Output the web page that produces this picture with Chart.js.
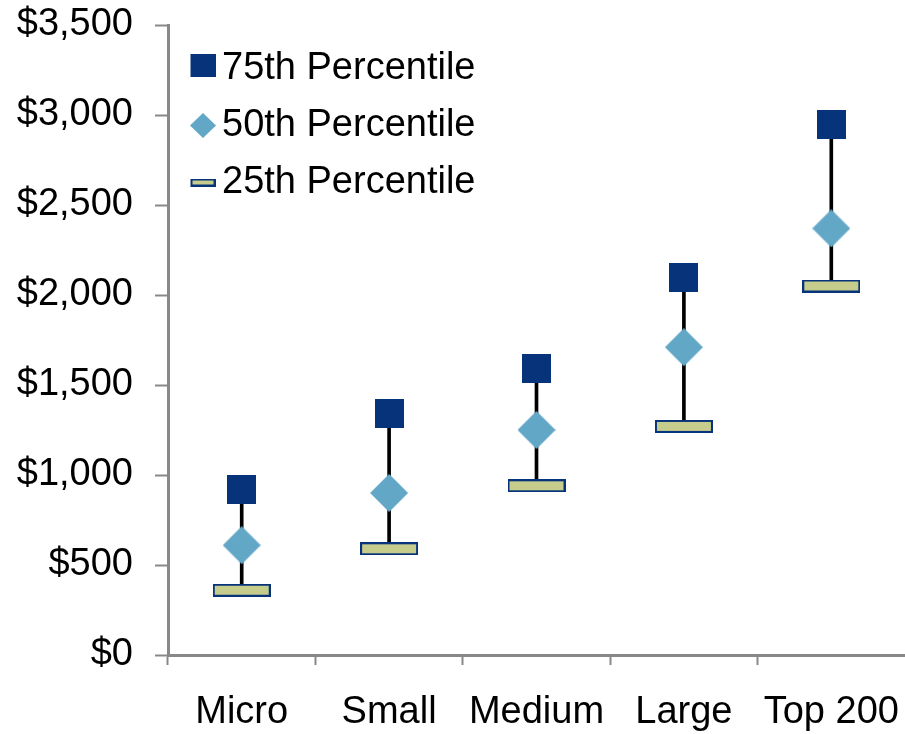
<!DOCTYPE html>
<html>
<head>
<meta charset="utf-8">
<script src="https://cdn.jsdelivr.net/npm/chart.js@4.4.1/dist/chart.umd.min.js"></script>
<style>
  html, body { margin: 0; padding: 0; background: #fff; overflow: hidden; }
  #grafico { display: block; }
</style>
</head>
<body>
<canvas id="grafico" width="905" height="734"></canvas>
<script>
// Datos
const categorias = ['Micro', 'Small', 'Medium', 'Large', 'Top 200'];
const p75 = [920, 1340, 1590, 2100, 2950];
const p50 = [610, 900, 1250, 1710, 2370];
const p25 = [360, 590, 940, 1270, 2050];
const ticksY = [0, 500, 1000, 1500, 2000, 2500, 3000, 3500];

const AZUL = '#06337a';
const CELESTE = '#63a7c7';
const OLIVA = '#c5cc8c';
const FUENTE = "'Liberation Sans', Arial, sans-serif";

// Crea un marcador como imagen (canvas) para usar como pointStyle
function marcador(w, h, dx, dy, dibujar) {
    const c = document.createElement('canvas');
    c.width = w + Math.abs(dx) * 2;
    c.height = h + Math.abs(dy) * 2;
    const ctx = c.getContext('2d');
    ctx.translate(c.width / 2 + dx - w / 2, c.height / 2 + dy - h / 2);
    dibujar(ctx, w, h);
    return c;
}

function cuadrado(ctx, w, h) {
    ctx.fillStyle = AZUL;
    ctx.fillRect(0, 0, w, h);
}
function rombo(ctx, w, h) {
    ctx.fillStyle = CELESTE;
    ctx.beginPath();
    ctx.moveTo(w / 2, 0);
    ctx.lineTo(w, h / 2);
    ctx.lineTo(w / 2, h);
    ctx.lineTo(0, h / 2);
    ctx.closePath();
    ctx.fill();
}
function barrita(ctx, w, h) {
    ctx.fillStyle = AZUL;
    ctx.fillRect(0, 0, w, h);
    ctx.fillStyle = OLIVA;
    ctx.fillRect(2, 2, w - 4, h - 4);
}

// marcadores del gráfico
const imgP75 = marcador(29, 29, 0, 0, cuadrado);
const imgP50 = marcador(38, 38, 0, 0, rombo);
const imgP25 = marcador(58, 13, 0, 0, barrita);

// marcadores de la leyenda (desplazados a la derecha)
const legP75 = marcador(25, 23, 8, -3, cuadrado);
const legP50 = marcador(26, 25, 8, 0, rombo);
const legP25 = marcador(25, 8, 8, 0, barrita);

const rangos = p25.map((v, i) => [v, p75[i]]);

new Chart(document.getElementById('grafico'), {
    data: {
        labels: categorias,
        datasets: [
            {
                type: 'bar',
                label: 'rango',
                data: rangos,
                backgroundColor: '#000',
                barThickness: 3,
                order: 4
            },
            {
                type: 'line',
                label: '25th Percentile',
                data: p25,
                showLine: false,
                pointStyle: imgP25,
                order: 3
            },
            {
                type: 'line',
                label: '50th Percentile',
                data: p50,
                showLine: false,
                pointStyle: imgP50,
                order: 2
            },
            {
                type: 'line',
                label: '75th Percentile',
                data: p75,
                showLine: false,
                pointStyle: imgP75,
                order: 1
            }
        ]
    },
    options: {
        responsive: false,
        animation: false,
        layout: { autoPadding: false, padding: { top: 25, right: 0, left: 0, bottom: 0 } },
        scales: {
            x: {
                offset: true,
                grid: {
                    offset: true,
                    drawOnChartArea: false,
                    drawTicks: true,
                    tickLength: 10,
                    tickWidth: 2,
                    // sin marca en el extremo derecho
                    tickColor: (c) => c.tick ? '#888' : 'transparent'
                },
                border: { color: '#888', width: 3 },
                ticks: {
                    color: '#000',
                    padding: 25,
                    maxRotation: 0,
                    font: { family: FUENTE, size: 38 }
                },
                afterFit: (s) => {
                    s.height = 79;
                    s.paddingLeft = 0;
                    s.paddingRight = 0;
                }
            },
            y: {
                min: 0,
                max: 3500,
                afterBuildTicks: (s) => { s.ticks = ticksY.map(v => ({ value: v })); },
                grid: {
                    drawOnChartArea: false,
                    drawTicks: true,
                    tickLength: 13,
                    tickWidth: 2,
                    tickColor: '#888'
                },
                border: { color: '#888', width: 3 },
                ticks: {
                    color: '#000',
                    padding: 22,
                    font: { family: FUENTE, size: 38 },
                    callback: (v) => '$' + v.toLocaleString('en-US')
                },
                afterFit: (s) => {
                    s.width = 168;
                    s.paddingTop = 0;
                    s.paddingBottom = 0;
                }
            }
        },
        plugins: {
            tooltip: { enabled: false },
            legend: {
                position: 'chartArea',
                align: 'start',
                title: {
                    display: true,
                    text: '',
                    color: '#000',
                    padding: { top: 20.5, bottom: 0 },
                    font: { size: 10, lineHeight: 1 }
                },
                labels: {
                    usePointStyle: true,
                    boxWidth: 16,
                    padding: 19,
                    color: '#000',
                    font: { family: FUENTE, size: 38 },
                    generateLabels: () => [
                        { text: '75th Percentile', fontColor: '#000', pointStyle: legP75, fillStyle: AZUL, lineWidth: 0, strokeStyle: 'transparent', datasetIndex: 3 },
                        { text: '50th Percentile', fontColor: '#000', pointStyle: legP50, fillStyle: CELESTE, lineWidth: 0, strokeStyle: 'transparent', datasetIndex: 2 },
                        { text: '25th Percentile', fontColor: '#000', pointStyle: legP25, fillStyle: OLIVA, lineWidth: 0, strokeStyle: 'transparent', datasetIndex: 1 }
                    ]
                }
            }
        }
    }
});
</script>
</body>
</html>
